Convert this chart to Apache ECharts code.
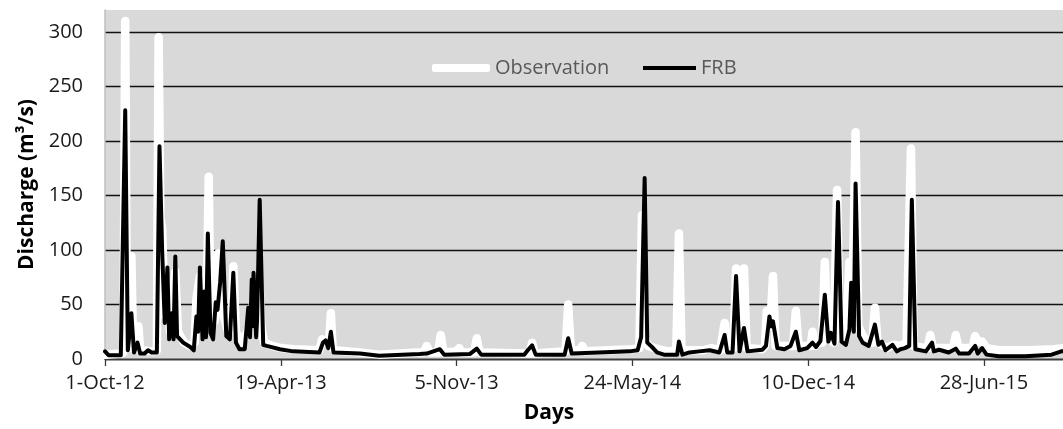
<!DOCTYPE html>
<html>
<head>
<meta charset="utf-8">
<script src="https://cdn.jsdelivr.net/npm/echarts@6/dist/echarts.min.js"></script>
<style>
html,body{margin:0;padding:0;background:#fff;}
#chart{width:1063px;height:429px;}
</style>
</head>
<body>
<div id="chart"></div>
<script>
// Day index counted from 1-Oct-12
const tickLabels = ['1-Oct-12','19-Apr-13','5-Nov-13','24-May-14','10-Dec-14','28-Jun-15'];

const obsDays = [0,18,21,23,25,28,30,32,36,38,40,55,59,61,63,65,68,71,74,77,80,83,90,97,102,104,108,111,114,116,118,120,125,127,129,132,135,140,144,146,149,155,162,167,170,176,178,181,190,200,215,244,247,250,255,257,259,261,290,312,355,363,366,369,379,382,385,400,403,406,420,423,426,480,483,486,489,520,524,527,530,540,543,546,600,608,611,614,618,625,640,650,653,656,680,690,700,702,705,708,715,718,721,724,727,730,748,751,753,757,760,763,775,780,783,786,789,800,803,805,808,812,816,819,822,829,831,833,836,843,845,847,850,852,854,857,863,870,873,876,879,890,897,905,912,914,917,920,933,936,939,942,960,965,968,971,983,987,990,993,998,1003,1017,1050,1080,1090];
const obsFlow = [4,5,6,310,15,10,94,10,10,30,8,7,8,295,130,120,40,70,25,60,80,25,15,12,15,55,76,30,50,60,167,40,35,50,97,60,40,25,30,85,25,15,25,40,64,64,30,15,12,10,9,8,18,15,15,42,10,8,6,4,6,6,12,6,6,22,6,7,10,6,6,19,6,5,5,15,5,7,7,50,8,8,12,7,9,10,132,20,12,10,7,8,115,8,8,10,8,8,33,8,10,83,15,15,83,10,9,12,44,30,76,12,12,12,12,44,12,12,12,25,12,15,15,89,20,15,15,155,20,20,20,89,30,30,208,30,20,15,15,47,15,10,13,12,15,15,193,12,10,10,22,10,10,10,22,10,10,10,21,16,16,10,8,8,9,10];

const frbDays = [0,4,18,23,26,30,33,37,40,45,49,53,59,62,65,68,71,73,76,78,80,82,89,97,101,104,106,108,111,113,115,117,120,123,126,128,131,134,138,142,146,149,153,159,163,165,167,168,169,172,173,176,180,184,199,214,244,248,251,254,257,260,290,312,358,366,381,386,415,423,428,477,481,486,490,523,527,531,562,597,606,610,614,617,623,628,636,651,653,657,665,676,688,699,705,708,714,718,722,727,731,748,752,756,758,760,765,773,780,786,790,799,805,809,814,819,823,826,830,834,838,843,847,849,852,854,858,862,869,876,880,884,888,896,901,905,910,915,918,922,934,941,943,949,960,968,972,983,990,993,998,1003,1017,1047,1077,1088,1090];
const frbFlow = [7,3.5,3.5,228,8,42,6,15,5,5,8,6,6,195,100,33,84,18,42,18,94,21,15,11,8,39,25,84,18,62,20,115,24,18,52,45,70,108,21,18,79,15,9,9,47,20,73,30,79,20,35,146,13,12,9,7,6,15,17,10,25,6,5,3,4.5,5,9,4,4.5,9.5,4,4,8,12.5,4,4,19,5,6,7,8,20,166,15,10.5,6,4,4,16,4,6,7,8,6,22,6,6,76,7,28.5,7,8.5,12,39,30,34.5,10,9,12,25,8,10,15,11,16.5,59,16,24,14,144,16,13,27,70,25,161,21,15,12,31.5,13,16,8,13,7,9,10,12,146,9,7,15,7,8.5,6,9.5,5,5,12,5,10,4,2.5,2.5,4,7,7];

const zip = (a, b) => a.map((d, i) => [d, b[i]]);
const FONT = '"Open Sans", "Noto Sans", sans-serif';
const legendText = {color: '#595959', fontSize: 20, fontFamily: FONT};

const chart = echarts.init(document.getElementById('chart'), null, {renderer: 'canvas'});
chart.setOption({
  animation: false,
  backgroundColor: '#ffffff',
  grid: {
    left: 105, right: 0, top: 10, bottom: 70,
    show: true, backgroundColor: '#d9d9d9', borderWidth: 0
  },
  legend: [
    {
      left: 427, top: 53, icon: 'roundRect',
      itemWidth: 58, itemHeight: 8,
      textStyle: legendText,
      data: ['Observation']
    },
    {
      left: 638, top: 53, icon: 'rect',
      itemWidth: 53, itemHeight: 4,
      textStyle: legendText,
      data: ['FRB']
    }
  ],
  xAxis: {
    type: 'value',
    min: 0, max: 1090, interval: 200,
    name: 'Days',
    nameLocation: 'middle',
    nameGap: 44,
    nameTextStyle: {fontSize: 21, fontWeight: 'bold', color: '#000', fontFamily: FONT, padding: [0, 70, 0, 0]},
    axisLine: {show: true, onZero: false, lineStyle: {color: '#3a3a3a', width: 1.3}},
    axisTick: {show: true, length: 7, lineStyle: {color: '#3a3a3a', width: 1.3}},
    axisLabel: {
      margin: 14, fontSize: 20, color: '#1a1a1a', fontFamily: FONT,
      showMaxLabel: false,
      formatter: v => (v % 200 === 0 && tickLabels[v / 200] !== undefined) ? tickLabels[v / 200] : ''
    },
    splitLine: {show: false}
  },
  yAxis: {
    type: 'value',
    min: 0, max: 320, interval: 50,
    name: 'Discharge (m³/s)',
    nameLocation: 'middle',
    nameGap: 66,
    nameTextStyle: {fontSize: 21, fontWeight: 'bold', color: '#000', fontFamily: FONT},
    axisLine: {show: true, lineStyle: {color: '#bfbfbf', width: 1.5}},
    axisTick: {show: false},
    axisLabel: {margin: 22, fontSize: 20, color: '#1a1a1a', fontFamily: FONT, showMaxLabel: false},
    splitLine: {show: true, showMaxLine: false, lineStyle: {color: '#111', width: 1.3}}
  },
  series: [
    {
      name: 'Observation', type: 'line', data: zip(obsDays, obsFlow),
      symbol: 'none', smooth: false,
      lineStyle: {color: '#ffffff', width: 8.5, cap: 'round', join: 'round'},
      itemStyle: {color: '#ffffff'}
    },
    {
      name: 'FRB', type: 'line', data: zip(frbDays, frbFlow),
      symbol: 'none', smooth: false,
      lineStyle: {color: '#000000', width: 4, cap: 'round', join: 'round'},
      itemStyle: {color: '#000000'}
    }
  ]
});
</script>
</body>
</html>
